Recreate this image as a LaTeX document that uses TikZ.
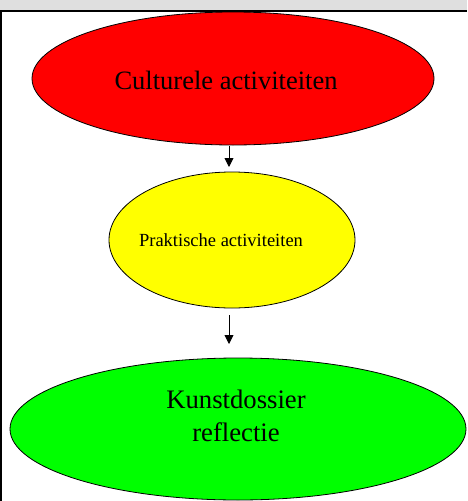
\documentclass[tikz,border=0pt]{standalone}
\usepackage{fontspec}
\setmainfont{Liberation Serif}
\usetikzlibrary{shapes.geometric,arrows.meta}
\definecolor{bargray}{HTML}{DFDFDF}
\definecolor{pureyellow}{HTML}{FFFF00}
\definecolor{puregreen}{HTML}{00FF00}
\definecolor{purered}{HTML}{FF0000}
\tikzset{
  blob/.style={ellipse, draw=black, line width=0.8pt, inner sep=0pt},
  flow/.style={line width=0.9pt, -{Triangle[length=9pt,width=9pt]}},
  caption/.style={anchor=base, inner sep=0pt, align=center}
}
\begin{document}
\begin{tikzpicture}[x=1pt,y=-1pt]
  \useasboundingbox (0,0) rectangle (467,501);
  % header strip and frame lines
  \fill[bargray] (0,0) rectangle (467,10);
  \draw[line width=2pt] (0,11) -- (467,11);
  \draw[line width=2pt] (1,11) -- (1,501);

  % the three stages
  \node[blob, fill=purered, minimum width=402pt, minimum height=133pt] (cult) at (233,78.5) {};
  \node[blob, fill=pureyellow, minimum width=246pt, minimum height=136pt] (prak) at (232,240) {};
  \node[blob, fill=puregreen, minimum width=456pt, minimum height=142pt] (kunst) at (238,429) {};

  \node[caption, font=\fontsize{26.5}{32}\selectfont] (tcult) at (226,89) {Culturele activiteiten};
  \node[caption, font=\fontsize{18.5}{22}\selectfont] (tprak) at (221,246) {Praktische activiteiten};
  \node[caption, font=\fontsize{26.7}{33}\selectfont] (tkunst) at (236,441) {Kunstdossier\\reflectie};

  % arrows between the stages
  \coordinate (a1) at (229,146);
  \coordinate (b1) at (229,167);
  \coordinate (a2) at (229,315);
  \coordinate (b2) at (229,344);
  \draw[flow] (a1) -- (b1);
  \draw[flow] (a2) -- (b2);
\end{tikzpicture}
\end{document}
